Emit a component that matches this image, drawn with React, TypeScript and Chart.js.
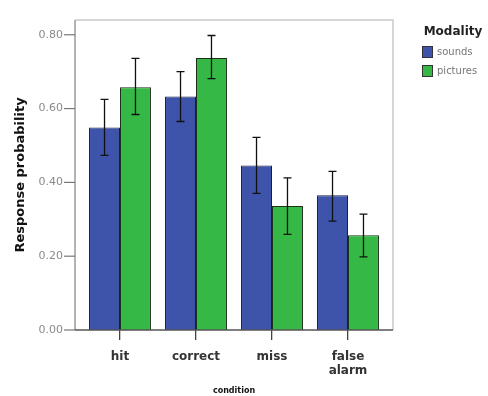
import React, { useEffect, useRef } from "react";
import { Chart, registerables } from "chart.js";

Chart.register(...registerables);

const categories: (string | string[])[] = ["hit", "correct", "miss", ["false", "alarm"]];
const seriesNames = ["sounds", "pictures"];
const soundsValues = [0.549, 0.633, 0.446, 0.365];
const picturesValues = [0.658, 0.737, 0.336, 0.257];
const soundsLow = [0.473, 0.565, 0.37, 0.295];
const soundsHigh = [0.625, 0.7, 0.522, 0.43];
const picturesLow = [0.584, 0.681, 0.259, 0.198];
const picturesHigh = [0.736, 0.798, 0.412, 0.314];
const yTicks = [0, 0.2, 0.4, 0.6, 0.8];
const yMax = 0.84;
const legendTitle = "Modality";
const xTitle = "condition";
const yTitle = "Response probability";

const BLUE = "#3e54aa";
const GREEN = "#35b845";

const framePlugin = {
  id: "frameAndExtras",
  afterDatasetsDraw(chart: any) {
    const { ctx, chartArea } = chart;
    const yScale = chart.scales.y;
    const left = chartArea.left - 7;
    const right = chartArea.right + 7;
    const top = chartArea.top;
    const bottom = chartArea.bottom;
    ctx.save();
    chart.data.datasets.forEach((ds: any, di: number) => {
      const meta = chart.getDatasetMeta(di);
      meta.data.forEach((bar: any, i: number) => {
        const x = bar.x;
        const yHi = yScale.getPixelForValue(ds.errHigh[i]);
        const yLo = yScale.getPixelForValue(ds.errLow[i]);
        ctx.strokeStyle = "#111";
        ctx.lineWidth = 1.3;
        ctx.beginPath();
        ctx.moveTo(x, yHi);
        ctx.lineTo(x, yLo);
        ctx.moveTo(x - 4, yHi);
        ctx.lineTo(x + 4, yHi);
        ctx.moveTo(x - 4, yLo);
        ctx.lineTo(x + 4, yLo);
        ctx.stroke();
      });
    });
    ctx.lineWidth = 2;
    ctx.strokeStyle = "#d6d6d6";
    ctx.beginPath();
    ctx.moveTo(left, top);
    ctx.lineTo(right, top);
    ctx.lineTo(right, bottom);
    ctx.stroke();
    ctx.lineWidth = 1.5;
    ctx.strokeStyle = "#9a9a9a";
    ctx.beginPath();
    ctx.moveTo(left, top);
    ctx.lineTo(left, bottom);
    ctx.stroke();
    ctx.strokeStyle = "#555";
    ctx.beginPath();
    ctx.moveTo(left, bottom);
    ctx.lineTo(right, bottom);
    ctx.stroke();
    ctx.strokeStyle = "#777";
    ctx.lineWidth = 1.2;
    yScale.ticks.forEach((t: any) => {
      const y = yScale.getPixelForValue(t.value);
      ctx.beginPath();
      ctx.moveTo(left - 11, y);
      ctx.lineTo(left, y);
      ctx.stroke();
    });
    ctx.fillStyle = "#222";
    ctx.font = "bold 12px 'DejaVu Sans'";
    ctx.textAlign = "center";
    ctx.textBaseline = "middle";
    ctx.fillText(legendTitle, 453, 32);
    chart.data.datasets.forEach((ds: any, di: number) => {
      const y0 = 46 + di * 19;
      ctx.fillStyle = ds.backgroundColor;
      ctx.fillRect(422, y0, 11, 12);
      ctx.strokeStyle = "#333";
      ctx.lineWidth = 1;
      ctx.strokeRect(422.5, y0 + 0.5, 10, 11);
      ctx.fillStyle = "#777";
      ctx.font = "10px 'DejaVu Sans'";
      ctx.textAlign = "left";
      ctx.fillText(ds.label, 437, y0 + 6);
    });
    ctx.restore();
  },
};

export default function App() {
  const ref = useRef<HTMLCanvasElement>(null);
  useEffect(() => {
    document.body.style.margin = "0";
    const chart = new Chart(ref.current!, {
      type: "bar",
      data: {
        labels: categories,
        datasets: [
          {
            label: seriesNames[0],
            data: soundsValues,
            backgroundColor: BLUE,
            borderColor: "#1c1c40",
            borderWidth: 1,
            errLow: soundsLow,
            errHigh: soundsHigh,
          } as any,
          {
            label: seriesNames[1],
            data: picturesValues,
            backgroundColor: GREEN,
            borderColor: "#1c301c",
            borderWidth: 1,
            errLow: picturesLow,
            errHigh: picturesHigh,
          } as any,
        ],
      },
      options: {
        responsive: false,
        animation: false,
        layout: { padding: { top: 20, right: 102, left: 0, bottom: 0 } },
        datasets: { bar: { categoryPercentage: 0.815, barPercentage: 1 } },
        plugins: { legend: { display: false }, tooltip: { enabled: false } },
        scales: {
          x: {
            offset: true,
            grid: {
              display: true,
              drawOnChartArea: false,
              drawTicks: true,
              tickLength: 10,
              offset: false,
              color: "#444",
              lineWidth: 1.3,
            },
            border: { display: false },
            ticks: {
              padding: 10,
              color: "#333",
              font: { family: "'DejaVu Sans'", size: 12, weight: "bold", lineHeight: 1.15 },
              maxRotation: 0,
            },
            title: {
              display: true,
              text: xTitle,
              color: "#111",
              font: { family: "'DejaVu Sans'", size: 8, weight: "bold", lineHeight: 1 },
              padding: { top: 0, bottom: 1 },
            },
            afterFit: (s: any) => {
              s.height = 66;
            },
          },
          y: {
            min: 0,
            max: yMax,
            grid: { display: false },
            border: { display: false },
            afterBuildTicks: (s: any) => {
              s.ticks = yTicks.map((v) => ({ value: v }));
            },
            ticks: {
              padding: 11,
              color: "#8a8a8a",
              font: { family: "'DejaVu Sans'", size: 11 },
              callback: (v: any) => Number(v).toFixed(2),
            },
            title: {
              display: true,
              text: yTitle,
              color: "#111",
              font: { family: "'DejaVu Sans'", size: 13, weight: "bold", lineHeight: 1.2 },
              padding: { top: 13, bottom: 0 },
            },
            afterFit: (s: any) => {
              s.width = 82;
            },
          },
        },
      },
      plugins: [framePlugin],
    });
    return () => chart.destroy();
  }, []);
  return (
    <div style={{ position: "fixed", left: 0, top: 0, width: 488, height: 396, background: "#fff" }}>
      <canvas ref={ref} width={488} height={396} />
    </div>
  );
}
